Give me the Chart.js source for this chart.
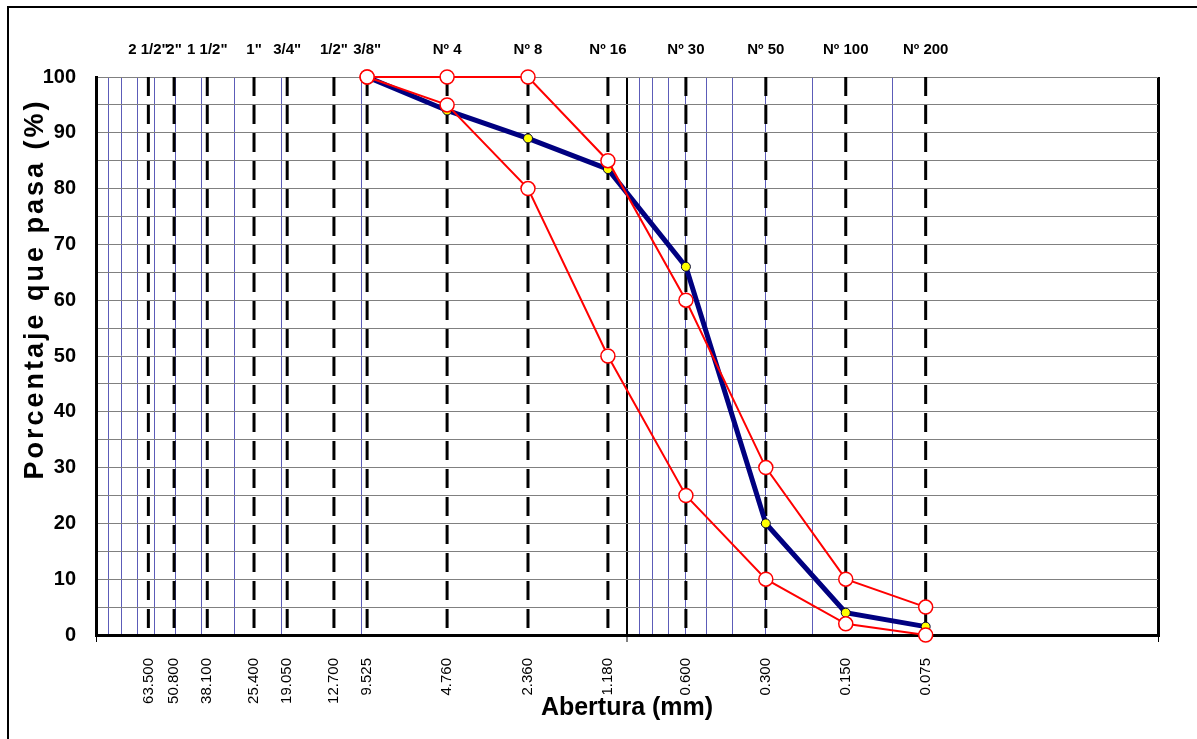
<!DOCTYPE html>
<html>
<head>
<meta charset="utf-8">
<script src="https://cdn.jsdelivr.net/npm/chart.js@4.4.1/dist/chart.umd.min.js"></script>
<style>
  html, body { margin: 0; padding: 0; background: #fff; overflow: hidden; }
  #wrap { position: relative; width: 1197px; height: 739px; }
  #frame { position: absolute; left: 7px; top: 6px; width: 3000px; height: 3000px;
           border-left: 2px solid #000; border-top: 2px solid #000; pointer-events: none; }
  canvas { display: block; }
</style>
</head>
<body>
<div id="wrap">
  <canvas id="c" width="1197" height="739"></canvas>
  <div id="frame"></div>
</div>
<script>
// ---- Data ----
const sieveNames = ['2 1/2"', '2"', '1 1/2"', '1"', '3/4"', '1/2"', '3/8"', 'Nº 4', 'Nº 8', 'Nº 16', 'Nº 30', 'Nº 50', 'Nº 100', 'Nº 200'];
const sieveSizes = [63.5, 50.8, 38.1, 25.4, 19.05, 12.7, 9.525, 4.76, 2.36, 1.18, 0.6, 0.3, 0.15, 0.075];
const sizeLabels = ['63.500', '50.800', '38.100', '25.400', '19.050', '12.700', '9.525', '4.760', '2.360', '1.180', '0.600', '0.300', '0.150', '0.075'];

const gradSizes  = [9.525, 4.76, 2.36, 1.18, 0.6, 0.3, 0.15, 0.075];
const upperLimit = [100, 100, 100, 85, 60, 30, 10, 5];
const lowerLimit = [100, 95, 80, 50, 25, 10, 2, 0];
const passing    = [100, 94, 89, 83.5, 66, 20, 4, 1.5];

const gridMajor = [100, 1, 0.01];
const gridMinor = [90, 80, 70, 60, 50, 40, 30, 20, 10, 0.9, 0.8, 0.7, 0.6, 0.5, 0.4, 0.3, 0.2, 0.1];

const xMin = 0.01, xMax = 100, yMin = 0, yMax = 100;

// ---- Build datasets ----
const FONT = "'Liberation Sans', Arial, sans-serif";
const toPts = (xs, ys) => xs.map((x, i) => ({ x: x, y: ys[i] }));

const datasets = [];
datasets.push({
  label: 'Límite superior', data: toPts(gradSizes, upperLimit),
  borderColor: '#ff0000', borderWidth: 2, pointRadius: 7, pointBorderWidth: 1.5,
  pointBackgroundColor: '#ffffff', pointBorderColor: '#ff0000', order: 0, clip: false
});
datasets.push({
  label: 'Límite inferior', data: toPts(gradSizes, lowerLimit),
  borderColor: '#ff0000', borderWidth: 2, pointRadius: 7, pointBorderWidth: 1.5,
  pointBackgroundColor: '#ffffff', pointBorderColor: '#ff0000', order: 0, clip: false
});
datasets.push({
  label: 'Muestra', data: toPts(gradSizes, passing),
  borderColor: '#000080', borderWidth: 5, pointRadius: 4.5, pointBorderWidth: 1,
  pointBackgroundColor: '#ffff00', pointBorderColor: '#000033', order: 1, clip: false
});
sieveSizes.forEach((s, i) => {
  datasets.push({
    label: sieveNames[i], data: [{ x: s, y: yMax }, { x: s, y: yMin }],
    borderColor: '#000000', borderWidth: 3, borderDash: [19, 9], pointRadius: 0,
    order: 2, clip: false
  });
});

const majorSet = new Set(gridMajor);

new Chart(document.getElementById('c'), {
  type: 'line',
  data: { datasets: datasets },
  options: {
    responsive: false,
    animation: false,
    devicePixelRatio: 1,
    layout: { autoPadding: false, padding: { left: 0, top: 0, right: 39, bottom: 0 } },
    plugins: { legend: { display: false }, tooltip: { enabled: false } },
    elements: { line: { tension: 0 } },
    scales: {
      x: {
        type: 'logarithmic', position: 'bottom', min: xMin, max: xMax, reverse: true, weight: 1,
        afterBuildTicks: (sc) => { sc.ticks = sieveSizes.map(v => ({ value: v })); },
        afterFit: (sc) => { sc.height = 104; },
        grid: { display: false, drawTicks: false },
        border: { display: false },
        ticks: {
          autoSkip: false, minRotation: 90, maxRotation: 90, padding: 23,
          color: '#000', font: { family: FONT, size: 15 },
          callback: (v, i) => sizeLabels[i]
        },
        title: {
          display: true, text: 'Abertura (mm)', color: '#000',
          font: { family: FONT, size: 25, weight: 'bold' }, padding: { top: 0, bottom: 16 }
        }
      },
      xGrid: {
        type: 'logarithmic', position: 'bottom', min: xMin, max: xMax, reverse: true, weight: 0,
        afterBuildTicks: (sc) => { sc.ticks = gridMajor.concat(gridMinor).map(v => ({ value: v })); },
        afterFit: (sc) => { sc.height = 0; },
        grid: {
          display: true, drawTicks: true, tickLength: 7,
          color: (ctx) => (ctx.tick && majorSet.has(ctx.tick.value)) ? '#000000' : '#5c5cb8',
          lineWidth: (ctx) => (ctx.tick && majorSet.has(ctx.tick.value)) ? (ctx.tick.value === 1 ? 2 : 3) : 1,
          tickColor: (ctx) => (ctx.tick && majorSet.has(ctx.tick.value)) ? '#000000' : 'rgba(0,0,0,0)',
          tickWidth: 1
        },
        border: { display: true, color: '#000000', width: 3 },
        ticks: { display: false, autoSkip: false }
      },
      xTop: {
        type: 'logarithmic', position: 'top', min: xMin, max: xMax, reverse: true,
        afterBuildTicks: (sc) => { sc.ticks = sieveSizes.map(v => ({ value: v })); },
        afterFit: (sc) => { sc.height = 77; },
        grid: { display: false, drawTicks: false },
        border: { display: false },
        ticks: {
          autoSkip: false, maxRotation: 0, minRotation: 0, padding: 18,
          color: '#000', font: { family: FONT, size: 15, weight: 'bold' },
          callback: (v, i) => sieveNames[i]
        }
      },
      y: {
        type: 'linear', position: 'left', min: yMin, max: yMax,
        afterFit: (sc) => {
          sc.width = 96;
          if (!sc.__titlePatched) {
            sc.__titlePatched = true;
            const orig = sc.drawTitle;
            sc.drawTitle = function () {
              const c = this.ctx;
              c.save();
              c.translate(0, -67);
              if ('letterSpacing' in c) c.letterSpacing = '3px';
              orig.apply(this, arguments);
              c.restore();
            };
          }
        },
        grid: { color: '#808080', lineWidth: 1, drawTicks: false },
        border: { display: true, color: '#000000', width: 3 },
        ticks: {
          stepSize: 5, padding: 20, color: '#000',
          font: { family: FONT, size: 20, weight: 'bold' },
          callback: (v) => (v % 10 === 0 ? String(v) : '')
        },
        title: {
          display: true,
          text: 'Porcentaje que pasa (%)',
          color: '#000', font: { family: FONT, size: 27, weight: 'bold' },
          padding: { top: 19, bottom: 0 }
        }
      }
    }
  }
});
</script>
</body>
</html>
